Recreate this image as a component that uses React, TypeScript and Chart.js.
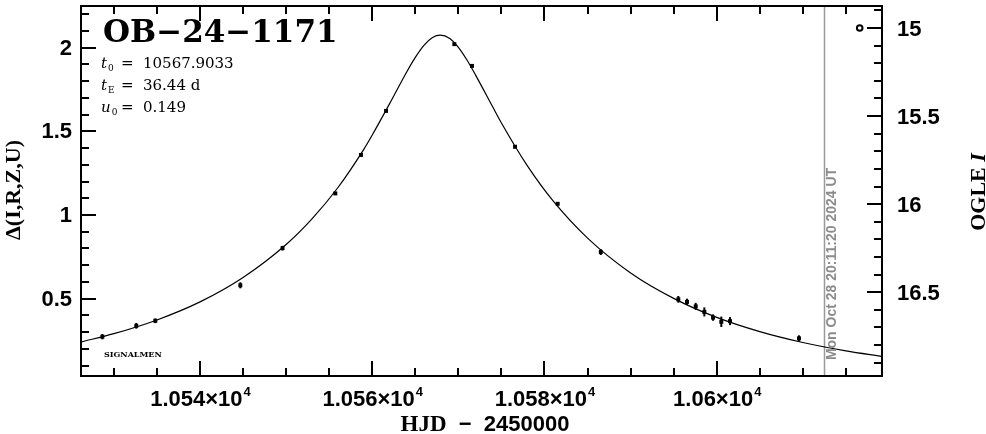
import React, { useEffect, useRef } from "react";
import { Chart, registerables } from "chart.js";

Chart.register(...registerables);

// ---- observed points (HJD - 2450000, Δ magnitude, error) ----
const hjd = [10528.66, 10532.6, 10534.81, 10544.68, 10549.58, 10555.71, 10558.69, 10561.6, 10569.53, 10571.58, 10576.58, 10581.53, 10586.54, 10595.54, 10596.55, 10597.56, 10598.56, 10599.57, 10600.53, 10601.54, 10609.55];
const delta = [0.273, 0.338, 0.368, 0.58, 0.802, 1.129, 1.359, 1.622, 2.021, 1.891, 1.408, 1.067, 0.779, 0.496, 0.481, 0.454, 0.421, 0.387, 0.362, 0.366, 0.263];
const deltaErr = [0.016, 0.017, 0.014, 0.018, 0.014, 0.008, 0.008, 0.008, 0.008, 0.008, 0.01, 0.01, 0.018, 0.02, 0.019, 0.021, 0.027, 0.019, 0.031, 0.024, 0.018];

// ---- model curve ----
const modelHjd = [10526.2, 10530, 10535, 10540, 10545, 10550, 10553, 10556, 10559, 10560, 10562, 10564, 10565, 10566, 10567, 10567.9, 10569, 10570, 10571, 10572, 10574, 10575, 10578, 10581, 10585, 10590, 10595, 10600, 10605, 10610, 10615, 10619.2];
const modelDelta = [0.242, 0.291, 0.373, 0.481, 0.627, 0.824, 0.977, 1.163, 1.391, 1.478, 1.664, 1.855, 1.942, 2.014, 2.061, 2.075, 2.055, 2.002, 1.926, 1.836, 1.645, 1.55, 1.295, 1.084, 0.862, 0.654, 0.502, 0.388, 0.303, 0.238, 0.188, 0.155];

// ---- OGLE I symbol (open circle, top right) ----
const ogleHjd = [10616.6];
const ogleMag = [15.0];

// ---- current-date marker ----
const nowHjd = [10612.4];
const nowLabel = "Mon Oct 28 20:11:20 2024 UT";

// ---- axes ----
const X_MIN = 10526.18, X_MAX = 10619.19;
const D_MIN = 0.038, D_MAX = 2.249;
const I_MIN = 14.875, I_MAX = 16.976;

const xMajor = [10540, 10560, 10580, 10600];
const xTickMantissa = ["1.054", "1.056", "1.058", "1.06"];
const xTickExp = "4";
const xMinor = [10530, 10535, 10545, 10550, 10555, 10565, 10570, 10575, 10585, 10590, 10595, 10605, 10610, 10615];

const dMajor = [0.5, 1, 1.5, 2];
const dTickLabels = ["0.5", "1", "1.5", "2"];
const dMinor = [0.1, 0.2, 0.3, 0.4, 0.6, 0.7, 0.8, 0.9, 1.1, 1.2, 1.3, 1.4, 1.6, 1.7, 1.8, 1.9, 2.1, 2.2];

const iMajor = [15, 15.5, 16, 16.5];
const iTickLabels = ["15", "15.5", "16", "16.5"];
const iMinor = [14.9, 15.1, 15.2, 15.3, 15.4, 15.6, 15.7, 15.8, 15.9, 16.1, 16.2, 16.3, 16.4, 16.6, 16.7, 16.8, 16.9];

const titleText = "OB\u221224\u22121171";
const params = [
  { sym: "t", sub: "0", val: "10567.9033" },
  { sym: "t", sub: "E", val: "36.44 d" },
  { sym: "u", sub: "0", val: "0.149" },
];

const TICK_FONT = 'bold 22px "Liberation Sans"';
const SUP_FONT = 'bold 13px "Liberation Sans"';
const SERIF = '"DejaVu Serif"';

const axesPlugin = {
  id: "axesPlugin",
  beforeDatasetsDraw(chart: any) {
    const { ctx, chartArea, scales } = chart;
    ctx.save();
    ctx.strokeStyle = "#9a9a9a";
    ctx.lineWidth = 1.5;
    for (const t of nowHjd) {
      const px = Math.round(scales.x.getPixelForValue(t)) + 0.5;
      ctx.beginPath();
      ctx.moveTo(px, chartArea.top);
      ctx.lineTo(px, chartArea.bottom);
      ctx.stroke();
    }
    ctx.restore();
  },
  afterDatasetsDraw(chart: any) {
    const { ctx, chartArea, scales } = chart;
    const { left, right, top, bottom } = chartArea;
    const sx = scales.x, sy = scales.y, si = scales.yI;
    ctx.save();

    // error bars
    ctx.strokeStyle = "#000";
    ctx.lineWidth = 2;
    hjd.forEach((t, k) => {
      const px = sx.getPixelForValue(t);
      ctx.beginPath();
      ctx.moveTo(px, sy.getPixelForValue(delta[k] - deltaErr[k]));
      ctx.lineTo(px, sy.getPixelForValue(delta[k] + deltaErr[k]));
      ctx.stroke();
    });

    // frame
    ctx.lineWidth = 2;
    ctx.strokeRect(left, top, right - left, bottom - top);

    const MAJ = 15, MIN = 8;
    ctx.beginPath();
    const vtick = (v: number, len: number) => {
      const px = Math.round(sx.getPixelForValue(v));
      ctx.moveTo(px, bottom); ctx.lineTo(px, bottom - len);
      ctx.moveTo(px, top); ctx.lineTo(px, top + len);
    };
    xMajor.forEach(v => vtick(v, MAJ));
    xMinor.forEach(v => vtick(v, MIN));
    const ltick = (v: number, len: number) => {
      const py = Math.round(sy.getPixelForValue(v));
      ctx.moveTo(left, py); ctx.lineTo(left + len, py);
    };
    dMajor.forEach(v => ltick(v, MAJ));
    dMinor.forEach(v => ltick(v, MIN));
    const rtick = (v: number, len: number) => {
      const py = Math.round(si.getPixelForValue(v));
      ctx.moveTo(right, py); ctx.lineTo(right - len, py);
    };
    iMajor.forEach(v => rtick(v, MAJ));
    iMinor.forEach(v => rtick(v, MIN));
    ctx.stroke();

    // tick labels
    ctx.fillStyle = "#000";
    ctx.font = TICK_FONT;
    ctx.textBaseline = "middle";
    ctx.textAlign = "right";
    dMajor.forEach((v, k) => ctx.fillText(dTickLabels[k], left - 9, sy.getPixelForValue(v) + 1));
    ctx.textAlign = "left";
    iMajor.forEach((v, k) => ctx.fillText(iTickLabels[k], right + 15, si.getPixelForValue(v) + 2));

    // x tick labels with superscript
    xMajor.forEach((v, k) => {
      const m = xTickMantissa[k] + "\u00d710";
      ctx.font = TICK_FONT;
      const wm = ctx.measureText(m).width;
      ctx.font = SUP_FONT;
      const we = ctx.measureText(xTickExp).width;
      const x0 = sx.getPixelForValue(v) - (wm + we) / 2;
      ctx.textAlign = "left";
      ctx.textBaseline = "alphabetic";
      ctx.font = TICK_FONT;
      ctx.fillText(m, x0, 406);
      ctx.font = SUP_FONT;
      ctx.fillText(xTickExp, x0 + wm + 1, 396);
    });

    // axis titles
    ctx.textBaseline = "middle";
    const hj = "HJD";
    const rest = "  \u2212  2450000";
    ctx.font = 'bold 23px "Liberation Serif"';
    const w1 = ctx.measureText(hj).width;
    ctx.font = TICK_FONT;
    const w2 = ctx.measureText(rest).width;
    const cx = 485;
    ctx.textAlign = "left";
    ctx.font = 'bold 23px "Liberation Serif"';
    ctx.fillText(hj, cx - (w1 + w2) / 2, 425);
    ctx.font = TICK_FONT;
    ctx.fillText(rest, cx - (w1 + w2) / 2 + w1, 425);

    ctx.save();
    ctx.translate(14, 190);
    ctx.rotate(-Math.PI / 2);
    ctx.textAlign = "center";
    ctx.font = 'bold 22px "Liberation Serif"';
    ctx.fillText("\u0394(I,R,Z,U)", 0, 0);
    ctx.restore();

    ctx.save();
    ctx.translate(979, 192);
    ctx.rotate(-Math.PI / 2);
    ctx.textAlign = "left";
    ctx.font = 'bold 22px "Liberation Serif"';
    const og = "OGLE ";
    const wog = ctx.measureText(og).width;
    ctx.font = 'italic bold 22px "Liberation Serif"';
    const wi = ctx.measureText("I").width;
    ctx.font = 'bold 22px "Liberation Serif"';
    ctx.fillText(og, -(wog + wi) / 2, 0);
    ctx.font = 'italic bold 22px "Liberation Serif"';
    ctx.fillText("I", -(wog + wi) / 2 + wog, 0);
    ctx.restore();

    // date label
    ctx.save();
    const nx = sx.getPixelForValue(nowHjd[0]);
    ctx.translate(nx + 9, 264);
    ctx.rotate(-Math.PI / 2);
    ctx.textAlign = "center";
    ctx.textBaseline = "middle";
    ctx.fillStyle = "#8c8c8c";
    ctx.font = 'bold 14px "Liberation Sans"';
    ctx.fillText(nowLabel, 0, 0);
    ctx.restore();

    // title & parameters
    ctx.textAlign = "left";
    ctx.textBaseline = "alphabetic";
    ctx.font = 'bold 31px ' + SERIF;
    ctx.fillText(titleText, 103, 42);

    params.forEach((p, k) => {
      const by = 68 + k * 22;
      ctx.font = 'italic 15px ' + SERIF;
      ctx.fillText(p.sym, 101, by);
      const ws = ctx.measureText(p.sym).width;
      ctx.font = '9px ' + SERIF;
      ctx.fillText(p.sub, 101 + ws + 1, by + 3);
      ctx.font = '15px ' + SERIF;
      ctx.fillText("=", 121, by);
      ctx.fillText(p.val, 143, by);
    });

    ctx.font = 'bold 8px ' + SERIF;
    ctx.fillText("SIGNALMEN", 104, 357);

    ctx.restore();
  },
};

export default function App() {
  const ref = useRef<HTMLCanvasElement | null>(null);
  useEffect(() => {
    if (!ref.current) return;
    const chart = new Chart(ref.current, {
      type: "scatter",
      data: {
        datasets: [
          {
            label: "model",
            type: "line",
            data: modelHjd.map((x, k) => ({ x, y: modelDelta[k] })),
            borderColor: "#000",
            borderWidth: 1.2,
            pointRadius: 0,
            cubicInterpolationMode: "monotone",
            fill: false,
            xAxisID: "x",
            yAxisID: "y",
          } as any,
          {
            label: "data",
            data: hjd.map((x, k) => ({ x, y: delta[k] })),
            pointStyle: "rect",
            pointRadius: 2.8,
            backgroundColor: "#000",
            borderColor: "#000",
            borderWidth: 0,
            xAxisID: "x",
            yAxisID: "y",
          },
          {
            label: "OGLE I",
            data: ogleHjd.map((x, k) => ({ x, y: ogleMag[k] })),
            pointStyle: "circle",
            pointRadius: 2.8,
            backgroundColor: "#fff",
            borderColor: "#000",
            borderWidth: 2,
            xAxisID: "x",
            yAxisID: "yI",
          },
        ],
      },
      options: {
        animation: false,
        responsive: false,
        devicePixelRatio: 1,
        layout: { padding: { left: 81, top: 1, right: 104, bottom: 58 } },
        plugins: { legend: { display: false }, tooltip: { enabled: false } },
        scales: {
          x: { type: "linear", min: X_MIN, max: X_MAX, display: false },
          y: { type: "linear", min: D_MIN, max: D_MAX, display: false },
          yI: { type: "linear", min: I_MIN, max: I_MAX, reverse: true, display: false },
        },
      },
      plugins: [axesPlugin],
    });
    return () => chart.destroy();
  }, []);
  return (
    <div style={{ position: "absolute", left: 0, top: 0, width: 986, height: 434, background: "#fff" }}>
      <canvas ref={ref} width={986} height={434} style={{ display: "block" }} />
    </div>
  );
}
